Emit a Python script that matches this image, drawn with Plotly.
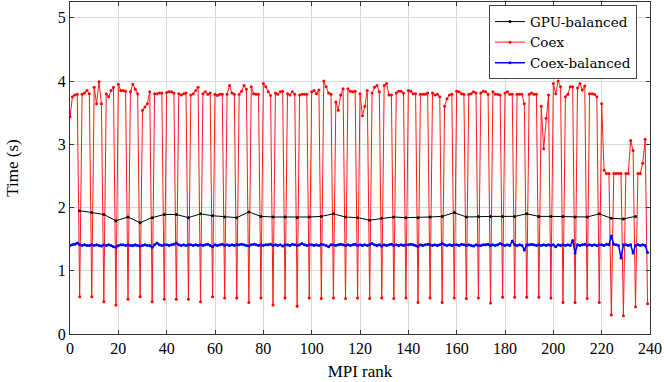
import plotly.graph_objects as go

# MPI ranks 0..239
ranks = list(range(240))

# Coex timings (s), one per rank
coex = [
    3.43, 3.75, 3.78, 3.79, 0.59, 3.79, 3.81, 3.85, 3.80, 0.59,
    3.90, 3.64, 3.99, 3.64, 0.51, 3.80, 3.75, 3.85, 3.90, 0.46,
    3.95, 3.85, 3.85, 3.84, 0.55, 3.83, 3.95, 3.87, 3.80, 0.59,
    3.54, 3.59, 3.64, 3.83, 0.51, 3.80, 3.80, 3.81, 3.81, 0.55,
    3.82, 3.83, 3.83, 3.81, 0.55, 3.80, 3.78, 3.80, 3.81, 0.55,
    3.78, 3.80, 3.85, 3.90, 0.51, 3.80, 3.83, 3.79, 3.81, 0.59,
    3.79, 3.77, 3.79, 3.79, 0.57, 3.79, 3.93, 3.81, 3.79, 0.57,
    3.79, 3.84, 3.93, 3.87, 0.50, 3.91, 3.80, 3.79, 3.79, 0.57,
    3.96, 3.91, 3.83, 3.77, 0.46, 3.81, 3.79, 3.83, 3.84, 0.57,
    3.80, 3.78, 3.83, 3.79, 0.44, 3.78, 3.79, 3.79, 3.79, 0.57,
    3.83, 3.85, 3.80, 3.86, 0.56, 4.00, 3.91, 3.81, 3.79, 0.57,
    3.67, 3.54, 3.78, 3.88, 0.56, 3.88, 3.84, 3.83, 3.84, 0.57,
    3.80, 3.45, 3.60, 3.85, 0.56, 3.81, 3.90, 3.93, 3.83, 0.57,
    3.93, 3.96, 3.78, 3.78, 0.56, 3.81, 3.84, 3.84, 3.81, 0.57,
    3.85, 3.84, 3.80, 3.80, 0.50, 3.79, 3.79, 3.79, 3.81, 0.57,
    3.81, 3.78, 3.79, 3.75, 0.50, 3.60, 3.72, 3.78, 3.79, 0.57,
    3.84, 3.83, 3.80, 3.79, 0.56, 3.79, 3.80, 3.83, 3.81, 0.57,
    3.81, 3.84, 3.83, 3.79, 0.49, 3.83, 3.79, 3.79, 3.78, 0.58,
    3.81, 3.83, 3.79, 3.79, 0.58, 3.79, 3.79, 3.79, 3.64, 0.58,
    3.79, 3.81, 3.79, 3.79, 0.58, 3.60, 2.93, 3.41, 3.78, 0.57,
    3.96, 3.80, 4.00, 3.91, 0.50, 3.75, 3.79, 3.91, 3.91, 0.50,
    3.89, 3.96, 3.86, 3.92, 0.56, 3.80, 3.80, 3.79, 3.75, 0.50,
    3.64, 2.59, 2.54, 2.54, 0.30, 2.54, 2.54, 2.54, 2.54, 0.29,
    2.54, 2.54, 3.06, 2.90, 0.43, 2.54, 2.54, 2.70, 3.08, 0.48,
]

# GPU-balanced timings, measured every 5th rank
gpu_ranks = list(range(4, 235, 5))
gpu_bal = [
    1.95, 1.92, 1.89, 1.79, 1.85, 1.76, 1.84, 1.89, 1.89, 1.84, 1.90, 1.87,
    1.85, 1.84, 1.93, 1.86, 1.85, 1.85, 1.84, 1.85, 1.86, 1.90, 1.85,
    1.84, 1.80, 1.83, 1.85, 1.84, 1.84, 1.85, 1.86, 1.92, 1.85, 1.86,
    1.86, 1.86, 1.86, 1.90, 1.86, 1.86, 1.86, 1.85, 1.85, 1.90, 1.83,
    1.82, 1.86,
]

# Coex-balanced timings, one per rank
coex_bal = [
    1.40, 1.41, 1.42, 1.44, 1.41, 1.40, 1.41, 1.40, 1.40, 1.41,
    1.40, 1.41, 1.40, 1.39, 1.41, 1.40, 1.41, 1.40, 1.38, 1.37,
    1.40, 1.41, 1.41, 1.40, 1.41, 1.40, 1.40, 1.41, 1.40, 1.39,
    1.40, 1.41, 1.40, 1.40, 1.37, 1.41, 1.44, 1.41, 1.40, 1.41,
    1.41, 1.40, 1.41, 1.42, 1.44, 1.41, 1.40, 1.41, 1.40, 1.41,
    1.41, 1.40, 1.41, 1.40, 1.41, 1.40, 1.41, 1.42, 1.40, 1.38,
    1.41, 1.40, 1.41, 1.42, 1.40, 1.41, 1.40, 1.41, 1.40, 1.41,
    1.41, 1.42, 1.41, 1.40, 1.39, 1.41, 1.42, 1.41, 1.40, 1.41,
    1.40, 1.41, 1.41, 1.42, 1.40, 1.41, 1.40, 1.41, 1.39, 1.41,
    1.41, 1.40, 1.42, 1.41, 1.40, 1.41, 1.43, 1.41, 1.40, 1.41,
    1.41, 1.40, 1.41, 1.40, 1.42, 1.41, 1.40, 1.38, 1.41, 1.41,
    1.40, 1.41, 1.42, 1.41, 1.40, 1.41, 1.40, 1.41, 1.42, 1.40,
    1.41, 1.40, 1.41, 1.40, 1.41, 1.43, 1.41, 1.40, 1.41, 1.39,
    1.41, 1.40, 1.41, 1.42, 1.40, 1.41, 1.40, 1.41, 1.40, 1.41,
    1.41, 1.42, 1.41, 1.40, 1.38, 1.41, 1.40, 1.41, 1.42, 1.41,
    1.40, 1.41, 1.40, 1.41, 1.43, 1.41, 1.40, 1.41, 1.40, 1.41,
    1.41, 1.40, 1.42, 1.41, 1.40, 1.41, 1.40, 1.39, 1.41, 1.40,
    1.40, 1.41, 1.41, 1.42, 1.40, 1.41, 1.40, 1.41, 1.43, 1.41,
    1.40, 1.41, 1.40, 1.47, 1.41, 1.40, 1.41, 1.40, 1.33, 1.41,
    1.41, 1.42, 1.41, 1.40, 1.41, 1.40, 1.41, 1.40, 1.41, 1.40,
    1.41, 1.38, 1.41, 1.40, 1.41, 1.40, 1.41, 1.40, 1.48, 1.28,
    1.41, 1.40, 1.41, 1.42, 1.40, 1.41, 1.40, 1.41, 1.40, 1.41,
    1.41, 1.40, 1.42, 1.41, 1.55, 1.42, 1.41, 1.40, 1.20, 1.41,
    1.41, 1.40, 1.41, 1.28, 1.40, 1.41, 1.40, 1.41, 1.40, 1.29,
]

fig = go.Figure()

# red first so the other lines sit on top of it
fig.add_trace(go.Scatter(
    x=ranks, y=coex, mode="lines+markers", name="Coex",
    line=dict(color="#ff1a1a", width=1),
    marker=dict(color="#ff0000", size=3),
    legendrank=2,
))
fig.add_trace(go.Scatter(
    x=gpu_ranks, y=gpu_bal, mode="lines+markers", name="GPU-balanced",
    line=dict(color="black", width=1),
    marker=dict(color="black", size=3),
    legendrank=1,
))
fig.add_trace(go.Scatter(
    x=ranks, y=coex_bal, mode="lines+markers", name="Coex-balanced",
    line=dict(color="#0000ff", width=1.5),
    marker=dict(color="#0000ff", size=3),
    legendrank=3,
))

font_family = "Liberation Serif"

fig.update_layout(
    width=664, height=382,
    margin=dict(l=70, r=14, t=2, b=48),
    paper_bgcolor="white", plot_bgcolor="white",
    font=dict(family=font_family, size=16, color="black"),
    showlegend=True,
    legend=dict(
        x=0.9776, y=0.99, xanchor="right", yanchor="top",
        bgcolor="white", bordercolor="#444", borderwidth=1,
        font=dict(family="DejaVu Serif", size=13.5), itemwidth=30, tracegroupgap=0,
    ),
    xaxis=dict(
        range=[0, 240], tickvals=list(range(0, 241, 20)),
        title=dict(text="MPI rank", standoff=8, font=dict(size=17)),
        automargin=False,
        showgrid=True, gridcolor="#d8d8d8", gridwidth=1,
        showline=True, linecolor="#333", linewidth=1.2, mirror="ticks",
        ticks="inside", ticklen=4, tickcolor="#333",
        zeroline=False,
    ),
    yaxis=dict(
        range=[0, 5.25], tickvals=[0, 1, 2, 3, 4, 5],
        title=dict(text="Time (s)", standoff=34, font=dict(size=17)),
        automargin=False,
        showgrid=True, gridcolor="#d8d8d8", gridwidth=1,
        showline=True, linecolor="#333", linewidth=1.2, mirror="ticks",
        ticks="inside", ticklen=4, tickcolor="#333",
        zeroline=False,
    ),
)

# drop the default page margin so the figure sits at the window's corner
fig.write_html(
    "out.html",
    config={"displayModeBar": False},
    post_script="document.body.style.margin='0';",
)
